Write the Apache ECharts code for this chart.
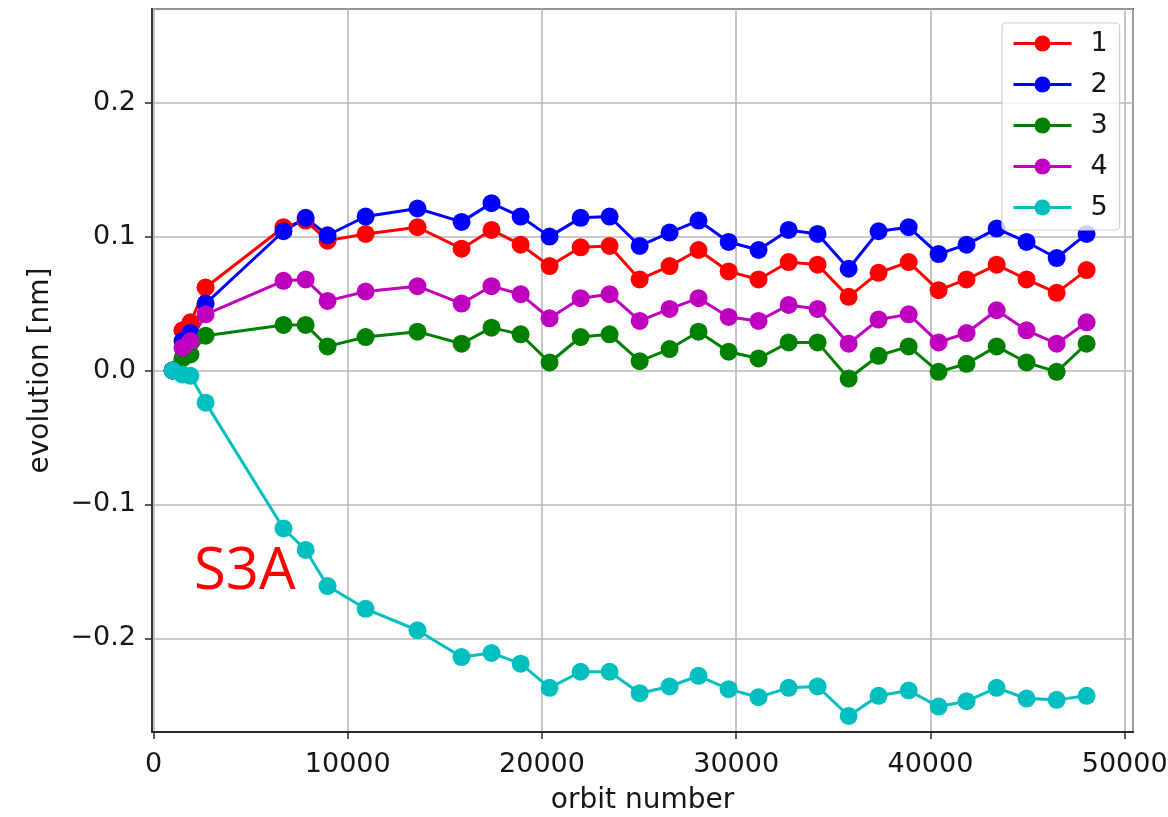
<!DOCTYPE html>
<html>
<head>
<meta charset="utf-8">
<title>evolution vs orbit number</title>
<script src="https://cdn.jsdelivr.net/npm/echarts@6/dist/echarts.min.js"></script>
<style>
  html, body { margin: 0; padding: 0; background: #ffffff; }
  #chart { width: 1168px; height: 817px; }
</style>
</head>
<body>
<div id="chart"></div>
<script>
// Orbit numbers at which the evolution was measured
const orbits = [980, 1490, 1900, 2680, 6690, 7830, 8960, 10920, 13590, 15860, 17400, 18900, 20390,
  21990, 23480, 25030, 26570, 28060, 29610, 31150, 32700, 34190, 35790, 37330, 38880, 40420,
  41860, 43410, 44950, 46500, 48040];

// Evolution [nm] for each of the five curves
const s1 = [0, 0.030, 0.036, 0.062, 0.107, 0.112, 0.097, 0.102, 0.107, 0.091, 0.105, 0.094, 0.078,
  0.092, 0.093, 0.068, 0.078, 0.090, 0.074, 0.068, 0.081, 0.079, 0.055, 0.073, 0.081, 0.060,
  0.068, 0.079, 0.068, 0.058, 0.075];
const s2 = [0, 0.022, 0.028, 0.050, 0.104, 0.114, 0.101, 0.115, 0.121, 0.111, 0.125, 0.115, 0.100,
  0.114, 0.115, 0.093, 0.103, 0.112, 0.096, 0.090, 0.105, 0.102, 0.076, 0.104, 0.107, 0.087,
  0.094, 0.106, 0.096, 0.084, 0.102];
const s3 = [0, 0.009, 0.012, 0.026, 0.034, 0.034, 0.018, 0.025, 0.029, 0.020, 0.032, 0.027, 0.006,
  0.025, 0.027, 0.007, 0.016, 0.029, 0.014, 0.009, 0.021, 0.021, -0.006, 0.011, 0.018, -0.001,
  0.005, 0.018, 0.006, -0.001, 0.020];
const s4 = [0, 0.017, 0.022, 0.042, 0.067, 0.068, 0.052, 0.059, 0.063, 0.050, 0.063, 0.057, 0.039,
  0.054, 0.057, 0.037, 0.046, 0.054, 0.040, 0.037, 0.049, 0.046, 0.020, 0.038, 0.042, 0.021,
  0.028, 0.045, 0.030, 0.020, 0.036];
const s5 = [0, -0.003, -0.004, -0.024, -0.118, -0.134, -0.161, -0.178, -0.194, -0.214, -0.211, -0.219, -0.237,
  -0.225, -0.225, -0.241, -0.236, -0.228, -0.238, -0.244, -0.237, -0.236, -0.258, -0.243, -0.239, -0.251,
  -0.247, -0.237, -0.245, -0.246, -0.243];

const seriesNames = ['1', '2', '3', '4', '5'];
const seriesColors = ['#ff0000', '#0000ff', '#008000', '#bf00bf', '#00bfbf'];
const seriesValues = [s1, s2, s3, s4, s5];

const FONT = "'DejaVu Sans', sans-serif";
const TEXT_COLOR = '#161616';

const chart = echarts.init(document.getElementById('chart'), null, { renderer: 'canvas' });

const series = seriesValues.map((vals, i) => ({
  name: seriesNames[i],
  type: 'line',
  data: orbits.map((x, j) => [x, vals[j]]),
  symbol: 'circle',
  symbolSize: 18,
  showSymbol: true,
  color: seriesColors[i],
  lineStyle: { width: 3, color: seriesColors[i] },
  itemStyle: { color: seriesColors[i] },
  emphasis: { disabled: true },
  z: 2
}));

const option = {
  animation: false,
  backgroundColor: '#ffffff',
  grid: {
    left: 152, right: 35, top: 9, bottom: 85,
    containLabel: false,
    outerBoundsMode: 'none',
    show: true,
    borderColor: '#2a2a2a',
    borderWidth: 1.8,
    backgroundColor: 'transparent'
  },
  xAxis: {
    type: 'value',
    min: -80,
    max: 50430,
    splitNumber: 5,
    name: 'orbit number',
    nameLocation: 'middle',
    nameGap: 55,
    nameTextStyle: { fontFamily: FONT, fontSize: 28, color: TEXT_COLOR },
    axisLine: { show: true, onZero: false, lineStyle: { color: '#2a2a2a', width: 1.8 } },
    axisTick: { show: true, inside: false, length: 7, lineStyle: { color: '#2a2a2a', width: 1.5 } },
    axisLabel: {
      fontFamily: FONT, fontSize: 27, color: TEXT_COLOR, margin: 19,
      showMinLabel: false, showMaxLabel: false,
      formatter: v => String(Math.round(v))
    },
    splitLine: { show: true, lineStyle: { color: '#b8b8b8', width: 1.6 } }
  },
  yAxis: {
    type: 'value',
    min: -0.27,
    max: 0.27,
    splitNumber: 5,
    name: 'evolution [nm]',
    nameLocation: 'middle',
    nameRotate: 90,
    nameGap: 97,
    nameTextStyle: { fontFamily: FONT, fontSize: 28, color: TEXT_COLOR },
    axisLine: { show: true, onZero: false, lineStyle: { color: '#2a2a2a', width: 1.8 } },
    axisTick: { show: true, inside: false, length: 7, lineStyle: { color: '#2a2a2a', width: 1.5 } },
    axisLabel: {
      fontFamily: FONT, fontSize: 27, color: TEXT_COLOR, margin: 16,
      showMinLabel: false, showMaxLabel: false,
      formatter: v => (v < -1e-9 ? '\u2212' : '') + Math.abs(v).toFixed(1)
    },
    splitLine: { show: true, lineStyle: { color: '#b8b8b8', width: 1.6 } }
  },
  legend: {
    show: true,
    data: seriesNames,
    orient: 'vertical',
    left: 1002,
    top: 23,
    padding: [7, 12, 9, 10],
    itemWidth: 58,
    itemHeight: 20,
    itemGap: 14,
    backgroundColor: 'rgba(255,255,255,0.8)',
    borderColor: '#d0d0d0',
    borderWidth: 1.2,
    borderRadius: 4,
    lineStyle: { width: 3 },
    textStyle: { fontFamily: FONT, fontSize: 27, color: TEXT_COLOR, padding: [0, 0, 0, 14] },
    z: 10
  },
  graphic: [{
    type: 'text',
    left: 194,
    top: 543,
    z: 20,
    style: {
      text: 'S3A',
      fill: '#ff0000',
      font: "58px 'Open Sans', 'Liberation Sans', sans-serif"
    }
  }],
  series: series
};

chart.setOption(option);
</script>
</body>
</html>
